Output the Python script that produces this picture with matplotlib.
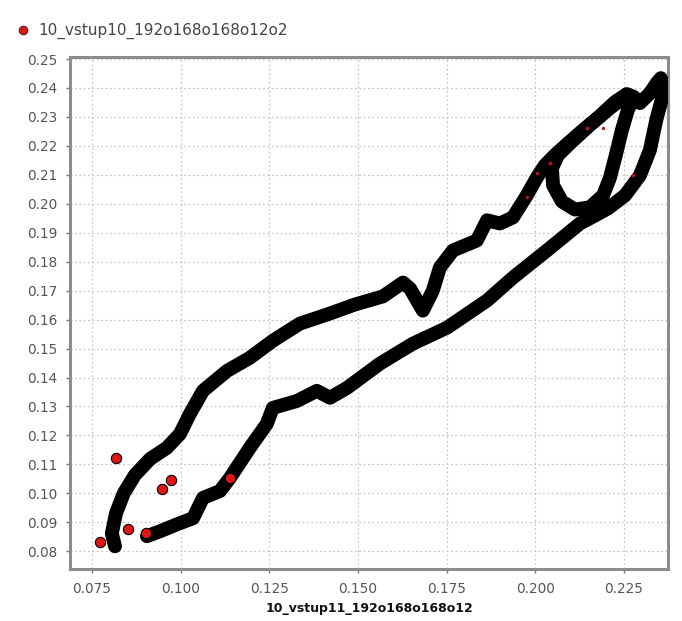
import matplotlib
matplotlib.use("Agg")
import matplotlib.pyplot as plt

# Trajectory (dense black track)
path_x = [0.0815, 0.0806, 0.0818, 0.0840, 0.0871, 0.0914, 0.0961, 0.0998, 0.1026, 0.1063,
          0.1131, 0.1195, 0.1260, 0.1336, 0.1421, 0.1491, 0.1570, 0.1627, 0.1647, 0.1683,
          0.1711, 0.1731, 0.1768, 0.1835, 0.1864, 0.1900, 0.1937,
          0.1976, 0.2005, 0.2027, 0.2055, 0.2092, 0.2134, 0.2182, 0.2224, 0.2258, 0.2278,
          0.2261, 0.2244, 0.2227, 0.2210, 0.2191, 0.2154, 0.2112, 0.2075, 0.2050, 0.2047,
          0.2064,
          0.2098, 0.2154, 0.2210, 0.2258, 0.2295, 0.2323, 0.2343, 0.2354, 0.2362,
          0.2356, 0.2341, 0.2323, 0.2295, 0.2253, 0.2205, 0.2154,
          0.2126, 0.2033, 0.1937, 0.1864, 0.1751, 0.1655, 0.1562, 0.1469, 0.1421, 0.1384,
          0.1328, 0.1260, 0.1243, 0.1195, 0.1139, 0.1111, 0.1063, 0.1035, 0.0990, 0.0942,
          0.0905]
path_y = [0.0817, 0.0862, 0.0932, 0.1001, 0.1063, 0.1119, 0.1157, 0.1205, 0.1274, 0.1354,
          0.1423, 0.1468, 0.1527, 0.1586, 0.1621, 0.1652, 0.1680, 0.1728, 0.1707, 0.1631,
          0.1700, 0.1780, 0.1839, 0.1873, 0.1943, 0.1932, 0.1953,
          0.2029, 0.2092, 0.2133, 0.2168, 0.2209, 0.2254, 0.2303, 0.2351, 0.2379, 0.2369,
          0.2324, 0.2254, 0.2168, 0.2088, 0.2029, 0.1988, 0.1980, 0.2008, 0.2064, 0.2123,
          0.2168,
          0.2209, 0.2272, 0.2330, 0.2375, 0.2348, 0.2382, 0.2418, 0.2434, 0.2400,
          0.2358, 0.2289, 0.2185, 0.2098, 0.2029, 0.1984, 0.1950,
          0.1932, 0.1839, 0.1745, 0.1666, 0.1572, 0.1517, 0.1448, 0.1364, 0.1330, 0.1354,
          0.1319, 0.1295, 0.1240, 0.1157, 0.1053, 0.1008, 0.0984, 0.0914, 0.0893, 0.0869,
          0.0852]

# Isolated visible points
pts_x = [0.0773, 0.0818, 0.0851, 0.0902, 0.0947, 0.0973, 0.1139]
pts_y = [0.0831, 0.1122, 0.0876, 0.0862, 0.1015, 0.1046, 0.1053]

# Small red specks visible inside the dense track
speck_x = [0.2005, 0.2041, 0.1976, 0.2275, 0.2146, 0.2191]
speck_y = [0.2105, 0.2140, 0.2022, 0.2098, 0.2261, 0.2261]

x_ticks = [0.075, 0.100, 0.125, 0.150, 0.175, 0.200, 0.225]
y_ticks = [round(0.08 + 0.01 * i, 2) for i in range(18)]

series_name = "10_vstup10_192o168o168o12o2"
x_label = "10_vstup11_192o168o168o12"

fig = plt.figure(figsize=(6.82, 6.21), dpi=100)
ax = fig.add_axes([0.1026, 0.0830, 0.8768, 0.8252])

ax.plot(path_x, path_y, color="black", linewidth=10.0,
        solid_joinstyle="round", solid_capstyle="round", zorder=3)
ax.scatter(speck_x, speck_y, s=6, color="#d01010", linewidths=0, zorder=4)
ax.scatter(pts_x, pts_y, s=55, color="#e01515", edgecolors="black",
           linewidths=0.8, zorder=5)

ax.set_xlim(0.0688, 0.2374)
ax.set_ylim(0.0737, 0.2507)
ax.set_xticks(x_ticks)
ax.set_xticklabels([f"{v:.3f}" for v in x_ticks])
ax.set_yticks(y_ticks)
ax.set_yticklabels([f"{v:.2f}" for v in y_ticks])

ax.grid(True, color="#c8c8c8", linestyle=(0, (1.5, 2)), linewidth=0.9)
ax.set_axisbelow(True)
for s in ax.spines.values():
    s.set_color("#8c8c8c")
    s.set_linewidth(2.2)
ax.tick_params(axis="both", colors="#777777", labelcolor="#555555",
               labelsize=9.8, length=3, width=1, pad=6)

ax.set_xlabel(x_label, fontsize=9, fontweight="bold", color="#111111", labelpad=4)

# legend above plot
fig.text(0.056, 0.951, series_name, fontsize=11, color="#444444", va="center", ha="left")
lax = fig.add_axes([0.0, 0.94, 0.06, 0.024])
lax.set_xlim(0, 1); lax.set_ylim(0, 1); lax.axis("off")
lax.scatter([0.55], [0.5], s=40, color="#e01515", edgecolors="#222222", linewidths=0.6)

fig.savefig("out.png", dpi=100, facecolor="white")
